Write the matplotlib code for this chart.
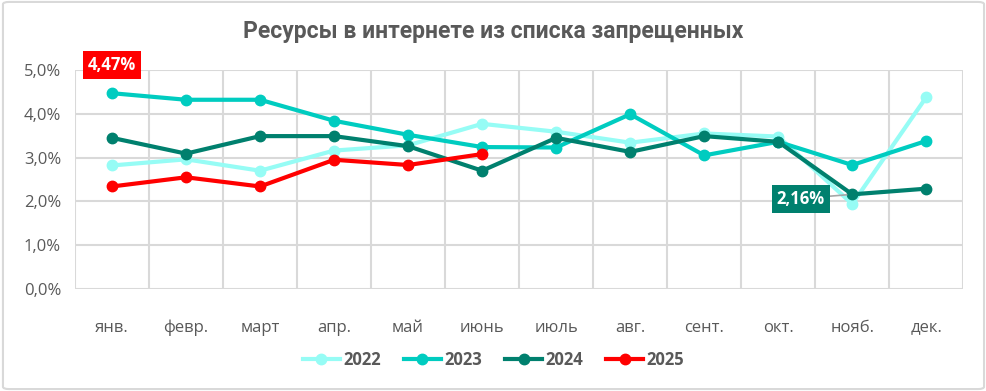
import matplotlib
matplotlib.use("Agg")
import matplotlib.pyplot as plt
from matplotlib.lines import Line2D
from matplotlib.patches import FancyBboxPatch
from matplotlib.ticker import FuncFormatter, MultipleLocator
import numpy as np

months = ["янв.", "февр.", "март", "апр.", "май", "июнь", "июль", "авг.", "сент.", "окт.", "нояб.", "дек."]
y2022 = [2.82, 2.96, 2.70, 3.16, 3.28, 3.77, 3.59, 3.34, 3.55, 3.48, 1.94, 4.38]
y2023 = [4.47, 4.32, 4.32, 3.84, 3.52, 3.24, 3.23, 3.99, 3.05, 3.36, 2.83, 3.38]
y2024 = [3.45, 3.09, 3.49, 3.49, 3.26, 2.70, 3.45, 3.13, 3.49, 3.36, 2.16, 2.29]
y2025 = [2.34, 2.55, 2.34, 2.95, 2.83, 3.08]

series = [
    ("2022", y2022, "#96FCF5"),
    ("2023", y2023, "#00CCC0"),
    ("2024", y2024, "#00806E"),
    ("2025", y2025, "#FF0000"),
]

TEXT = "#595959"
GRID = "#D9D9D9"
plt.rcParams["font.family"] = ["Open Sans", "DejaVu Sans"]

fig = plt.figure(figsize=(9.87, 3.91), dpi=100)
ax = fig.add_axes([0.076, 0.261, 0.9, 0.56])

x = np.arange(len(months))
for label, values, color in series:
    ax.plot(x[:len(values)], values, color=color, lw=3, marker="o", ms=7.5,
            solid_capstyle="round", label=label, zorder=3)

ax.set_xlim(-0.5, len(months) - 0.5)
ax.set_ylim(0, 5)
ax.yaxis.set_major_locator(MultipleLocator(1))
ax.yaxis.set_major_formatter(FuncFormatter(lambda v, _: f"{v:.1f}%".replace(".", ",")))
ax.set_xticks(x)
ax.set_xticklabels(months)
ax.set_xticks(np.arange(-0.5, len(months), 1), minor=True)
ax.tick_params(axis="x", which="both", length=0, pad=22, labelsize=12, labelcolor=TEXT)
ax.tick_params(axis="y", length=0, pad=10, labelsize=12, labelcolor=TEXT)
ax.grid(axis="y", which="major", color=GRID, lw=1.5)
ax.grid(axis="x", which="minor", color=GRID, lw=1.5)
ax.set_axisbelow(True)
for side in ax.spines.values():
    side.set_visible(False)

# callouts
ax.annotate("4,47%", xy=(0, y2023[0]), xytext=(0, 20), textcoords="offset points",
            ha="center", va="center", fontsize=12, fontweight="bold", color="white",
            bbox=dict(boxstyle="square,pad=0.3", fc="#FF0000", ec="none"))
ax.annotate("2,16%", xy=(10, y2024[10]), xytext=(-37, -3), textcoords="offset points",
            ha="center", va="center", fontsize=12, fontweight="bold", color="white",
            bbox=dict(boxstyle="square,pad=0.3", fc="#00806E", ec="none"),
            arrowprops=dict(arrowstyle="-", color="#A6A6A6", lw=1.2, shrinkA=0, shrinkB=4))

fig.text(0.5, 0.92, "Ресурсы в интернете из списка запрещенных",
         family=["Roboto", "DejaVu Sans"], fontweight="bold",
         fontsize=16.5, color=TEXT, ha="center", va="center")

handles = [Line2D([], [], color=c, lw=3, marker="o", ms=7.5) for _, _, c in series]
leg = fig.legend(handles, [s[0] for s in series], loc="center", bbox_to_anchor=(0.5, 0.08),
                 ncol=4, frameon=False, handlelength=2.2, handletextpad=0.2, columnspacing=1.4,
                 prop={"size": 12, "weight": "bold"})
for t in leg.get_texts():
    t.set_color(TEXT)

fig.patches.append(FancyBboxPatch((0.003, 0.005), 0.994, 0.99, boxstyle="round,pad=0,rounding_size=0.006",
                                  transform=fig.transFigure, fc="none", ec="#D9D9D9", lw=1.5))

fig.savefig("out.png", dpi=100, facecolor="white")
